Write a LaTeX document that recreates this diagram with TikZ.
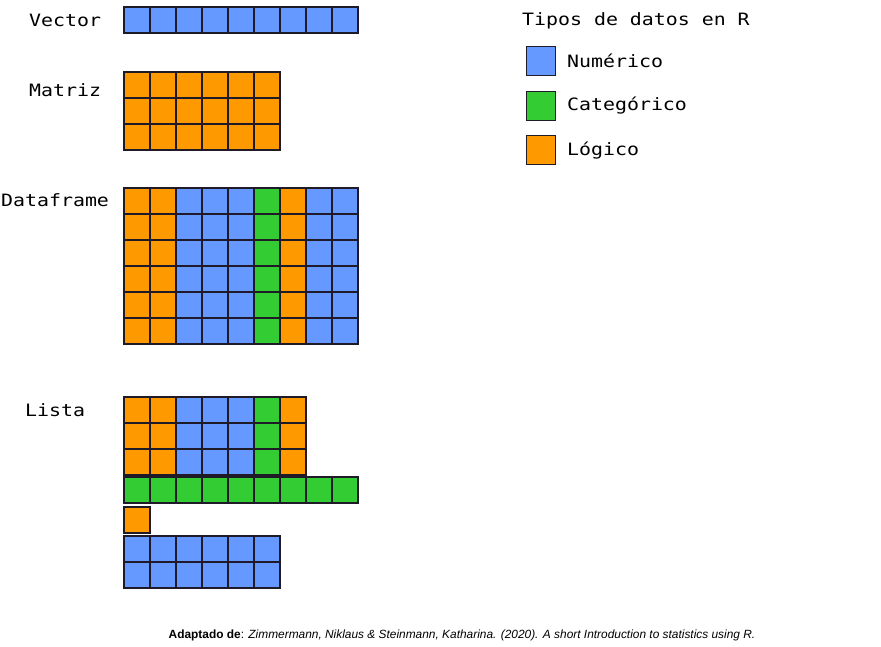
\documentclass[tikz,border=0pt]{standalone}
\usepackage{fontspec}
\setmainfont{Liberation Sans}
\newfontfamily\monof[FakeStretch=1.17]{DejaVu Sans Mono}
\definecolor{numc}{HTML}{6699FF}
\definecolor{catc}{HTML}{33CC33}
\definecolor{logc}{HTML}{FF9900}
\definecolor{edgec}{HTML}{1E1A28}
\tikzset{
  cell/.style={draw=edgec, line width=1.8pt},
  lab/.style={font=\monof\fontsize{17}{20}\selectfont, inner sep=0pt, anchor=west},
  legbox/.style={draw=edgec, line width=1.8pt, minimum width=29pt, minimum height=29pt, inner sep=0pt},
}
% \cellblock{x0}{y0}{nrows}{colour list}
\newcommand{\cellblock}[4]{%
  \foreach \cc [count=\ii from 0] in {#4} {%
    \foreach \rr in {1,...,#3} {%
      \draw[cell, fill=\cc] ({#1+26*\ii},{#2+26*(\rr-1)}) rectangle ++(26,26);
    }%
  }%
}
\begin{document}
\begin{tikzpicture}[x=1pt, y=-1pt]
\useasboundingbox (0,0) rectangle (881,647);
% Vector
\cellblock{124}{7}{1}{numc,numc,numc,numc,numc,numc,numc,numc,numc}
% Matriz
\cellblock{124}{72}{3}{logc,logc,logc,logc,logc,logc}
% Dataframe
\cellblock{124}{188}{6}{logc,logc,numc,numc,numc,catc,logc,numc,numc}
% Lista
\cellblock{124}{397}{3}{logc,logc,numc,numc,numc,catc,logc}
\cellblock{124}{477}{1}{catc,catc,catc,catc,catc,catc,catc,catc,catc}
\cellblock{124}{507}{1}{logc}
\cellblock{124}{536}{2}{numc,numc,numc,numc,numc,numc}
% labels
\node[lab] (lvec) at (29,20) {Vector};
\node[lab] (lmat) at (29,90) {Matriz};
\node[lab] (ldf) at (1,200) {Dataframe};
\node[lab] (llis) at (25,410) {Lista};
% legend
\node[lab] (ltit) at (522,21) {Tipos de datos en R};
\node[legbox, fill=numc] (bnum) at (541,61) {};
\node[legbox, fill=catc] (bcat) at (541,106) {};
\node[legbox, fill=logc] (blog) at (541,150) {};
\node[lab] (tnum) at (567,61) {Numérico};
\node[lab] (tcat) at (567,106) {Categórico};
\node[lab] (tlog) at (567,151) {Lógico};
% caption
\node[font=\fontsize{11.9}{13}\selectfont, inner sep=0pt] (cap) at (462,635) {\textbf{Adaptado de}: \textit{Zimmermann, Niklaus \& Steinmann, Katharina. (2020). A short Introduction to statistics using R.}};
\end{tikzpicture}
\end{document}
